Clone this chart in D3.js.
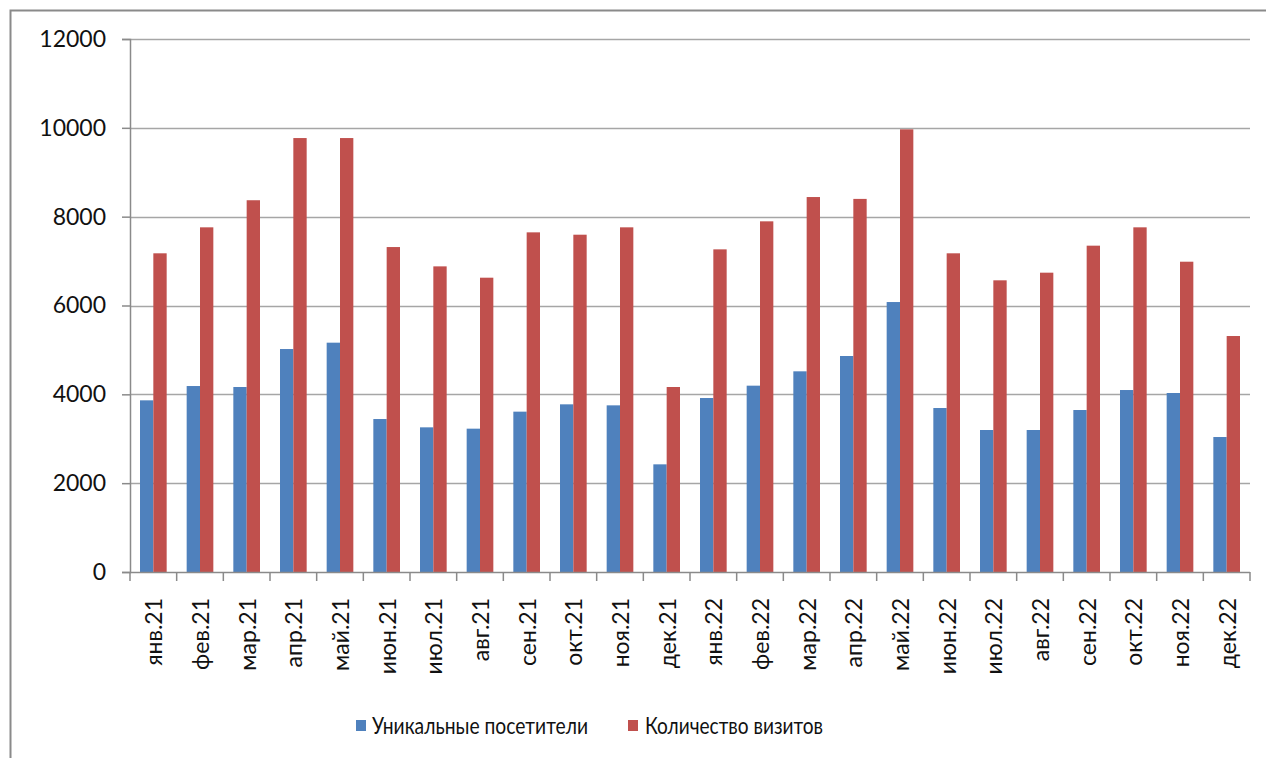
<!DOCTYPE html>
<html>
<head>
<meta charset="utf-8">
<script src="https://cdn.jsdelivr.net/npm/d3@7"></script>
<style>
  body { margin: 0; background: #fff; }
  svg { display: block; }
  text { font-family: Lato, "Open Sans", sans-serif; fill: #111; }
</style>
</head>
<body>
<svg id="chart" width="1266" height="758"></svg>
<script>
const categories = ["янв.21","фев.21","мар.21","апр.21","май.21","июн.21","июл.21","авг.21","сен.21","окт.21","ноя.21","дек.21",
                    "янв.22","фев.22","мар.22","апр.22","май.22","июн.22","июл.22","авг.22","сен.22","окт.22","ноя.22","дек.22"];
const uniqueVisitors = [3865,4187,4165,5020,5163,3444,3257,3227,3610,3775,3752,2424,
                        3917,4195,4518,4863,6078,3692,3197,3197,3647,4097,4030,3039];
const visits = [7175,7760,8370,9770,9770,7316,6881,6626,7647,7594,7760,4165,
                7264,7895,8442,8400,9966,7175,6567,6739,7347,7760,6986,5313];
const yTicks = [0,2000,4000,6000,8000,10000,12000];
const seriesNames = ["Уникальные посетители","Количество визитов"];
const seriesColors = ["#4F81BD","#C0504D"];

const svg = d3.select("#chart");
const pLeft = 130, pRight = 1250, pTop = 39, pBottom = 572;

// outer chart border
svg.append("rect").attr("x",10.5).attr("y",10.5).attr("width",1400).attr("height",900)
  .attr("fill","none").attr("stroke","#8a8a8a").attr("stroke-width",2);

const x = d3.scaleBand().domain(categories).range([pLeft,pRight]).padding(0);
const y = d3.scaleLinear().domain([0,12000]).range([pBottom,pTop]);
const step = x.step();
const bw = step*2/7;
const off = step*1.5/7;

// gridlines
svg.append("g").selectAll("line").data(yTicks.filter(d=>d>0)).join("line")
  .attr("x1",pLeft).attr("x2",pRight)
  .attr("y1",d=>Math.round(y(d))+0.5).attr("y2",d=>Math.round(y(d))+0.5)
  .attr("stroke","#a6a6a6").attr("stroke-width",1.5);

// bars
const data = [uniqueVisitors, visits];
data.forEach((vals,si)=>{
  svg.append("g").selectAll("rect").data(categories).join("rect")
    .attr("x",(c)=>x(c)+off+si*bw)
    .attr("width",bw)
    .attr("y",(c,i)=>y(vals[i]))
    .attr("height",(c,i)=>pBottom-y(vals[i]))
    .attr("fill",seriesColors[si]);
});

// y axis
const yAxis = svg.append("g").attr("transform",`translate(${pLeft},0)`)
  .call(d3.axisLeft(y).tickValues(yTicks).tickSize(8).tickPadding(16).tickFormat(d3.format("d")));
yAxis.selectAll("path,line").attr("stroke","#8a8a8a").attr("stroke-width",1.5);
yAxis.selectAll("text").style("font-size","23px").style("font-family","Lato, sans-serif").attr("fill","#111");

// x axis
svg.append("line").attr("x1",pLeft).attr("x2",pRight).attr("y1",pBottom+0.5).attr("y2",pBottom+0.5)
  .attr("stroke","#8a8a8a").attr("stroke-width",1.5);
const bounds = categories.map(c=>x(c)).concat([pRight]);
svg.append("g").selectAll("line").data(bounds).join("line")
  .attr("x1",d=>d).attr("x2",d=>d).attr("y1",pBottom).attr("y2",pBottom+9)
  .attr("stroke","#8a8a8a").attr("stroke-width",1.5);
svg.append("g").selectAll("text").data(categories).join("text")
  .attr("transform",c=>`translate(${x(c)+step/2+1},598) rotate(-90)`)
  .attr("text-anchor","end").attr("dy","0.35em")
  .style("font-size","23px").text(c=>c);

// legend
const legendItems = [{x:356, tx:372, len:216},{x:628, tx:645, len:178}];
legendItems.forEach((it,i)=>{
  svg.append("rect").attr("x",it.x).attr("y",720).attr("width",10).attr("height",11).attr("fill",seriesColors[i]);
  svg.append("text").attr("x",it.tx).attr("y",726).attr("dy","0.35em")
    .attr("textLength",it.len).attr("lengthAdjust","spacingAndGlyphs")
    .style("font-size","23px").text(seriesNames[i]);
});
</script>
</body>
</html>
